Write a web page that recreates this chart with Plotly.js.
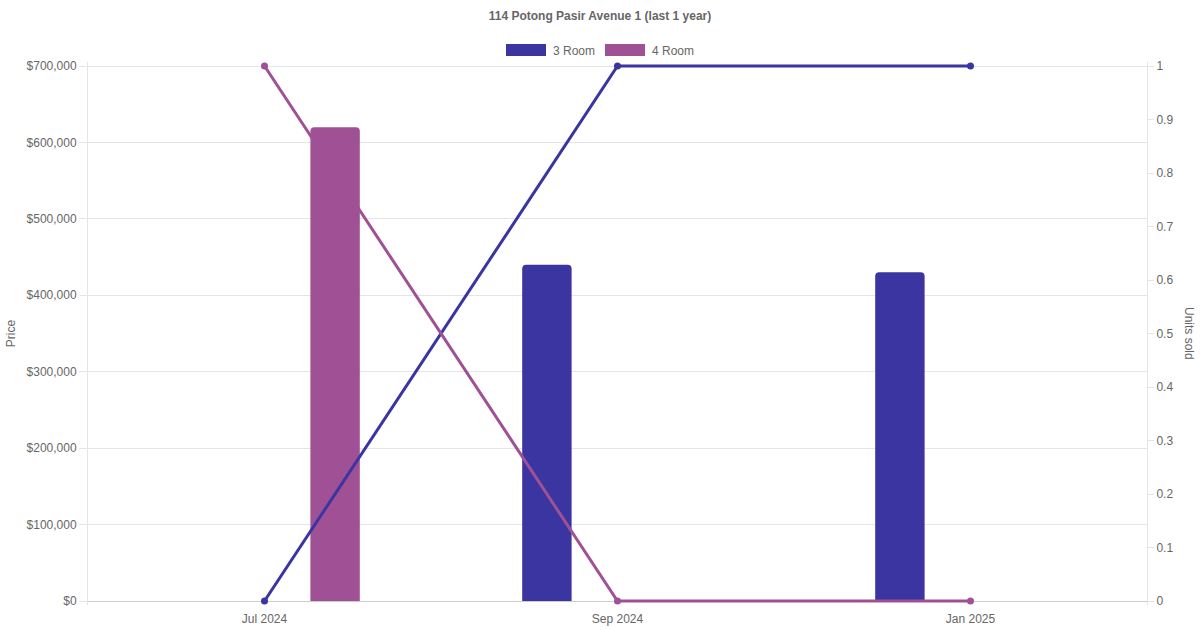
<!DOCTYPE html>
<html>
<head>
<meta charset="utf-8">
<script src="https://cdn.plot.ly/plotly-3.0.1.min.js"></script>
<style>
  html, body { margin: 0; padding: 0; background: #ffffff; }
  #chart { width: 1200px; height: 630px; }
</style>
</head>
<body>
<div id="chart"></div>
<script>
// ---- data ----
const months = ['Jul 2024', 'Sep 2024', 'Jan 2025'];
const price3Room = [null, 440000, 430000];
const price4Room = [620000, null, null];
const units3Room = [0, 1, 1];
const units4Room = [1, 0, 0];
const seriesNames = ['3 Room', '4 Room'];
const priceTicks = [0, 100000, 200000, 300000, 400000, 500000, 600000, 700000];

// ---- styles ----
const c3 = '#3a35a0';
const c4 = '#a05195';
const txt = '#666666';
const grid = '#e5e5e5';
const font = 'Liberation Sans, Arial, Helvetica, sans-serif';

// small padding so lines at 0 and 1 are not clipped (4px of 535px)
const padU = 4 / 535;

const traces = [
  {
    type: 'bar', name: seriesNames[0],
    x: months, y: price3Room, xaxis: 'x', yaxis: 'y',
    width: 0.14, offset: -0.27,
    marker: { color: c3, line: { width: 0 } }, showlegend: false
  },
  {
    type: 'bar', name: seriesNames[1],
    x: months, y: price4Room, xaxis: 'x', yaxis: 'y',
    width: 0.14, offset: 0.13,
    marker: { color: c4, line: { width: 0 } }, showlegend: false
  },
  {
    type: 'scatter', mode: 'lines+markers', name: seriesNames[0],
    x: months, y: units3Room, xaxis: 'x', yaxis: 'y2',
    line: { color: c3, width: 3 }, marker: { color: c3, size: 7 },
    cliponaxis: false, showlegend: false
  },
  {
    type: 'scatter', mode: 'lines+markers', name: seriesNames[1],
    x: months, y: units4Room, xaxis: 'x', yaxis: 'y2',
    line: { color: c4, width: 3 }, marker: { color: c4, size: 7 },
    cliponaxis: false, showlegend: false
  }
];

// plot area spans 62..605 px vertically (543 px), x 88..1147
const plotTop = 62, plotH = 543, plotL = 88, plotW = 1059;
const px2x = p => (p - plotL) / plotW;
const px2y = p => (plotTop + plotH - p) / plotH;

// custom wide-box legend
const legendItems = [
  { name: seriesNames[0], color: c3, x0: 506, x1: 546, tx: 551 },
  { name: seriesNames[1], color: c4, x0: 605, x1: 645, tx: 650 }
];
const shapes = legendItems.map(it => ({
  type: 'rect', xref: 'paper', yref: 'paper',
  x0: px2x(it.x0), x1: px2x(it.x1), y0: px2y(56), y1: px2y(44),
  fillcolor: it.color, line: { width: 0 }
}));
const annotations = legendItems.map(it => ({
  xref: 'paper', yref: 'paper', x: px2x(it.tx), y: px2y(50.5),
  xanchor: 'left', yanchor: 'middle', showarrow: false,
  text: it.name, font: { family: font, size: 12, color: txt }
}));
annotations.push({
  xref: 'paper', yref: 'paper', x: px2x(1189), y: px2y(333),
  xanchor: 'center', yanchor: 'middle', showarrow: false,
  text: 'Units sold', textangle: 90,
  font: { family: font, size: 12, color: txt }
});

const layout = {
  width: 1200, height: 630,
  paper_bgcolor: '#ffffff', plot_bgcolor: '#ffffff',
  margin: { l: 88, r: 53, t: 62, b: 25, pad: 0 },
  font: { family: font, size: 12, color: txt },
  showlegend: false,
  barcornerradius: 4,
  title: {
    text: '<b>114 Potong Pasir Avenue 1 (last 1 year)</b>',
    x: 0.5, xref: 'container', xanchor: 'center',
    y: 1 - 16 / 630, yref: 'container', yanchor: 'middle',
    font: { family: font, size: 12, color: txt }
  },
  xaxis: {
    type: 'category', categoryorder: 'array', categoryarray: months,
    range: [-0.5, 2.5], showgrid: false, zeroline: false,
    showline: false,
    ticks: '', ticklabelstandoff: 5,
    tickfont: { family: font, size: 12, color: txt }, fixedrange: true
  },
  yaxis: {
    side: 'left', range: [-700000 * padU, 700000 * (1 + padU)],
    tickmode: 'array', tickvals: priceTicks,
    ticktext: priceTicks.map(v => '$' + v.toLocaleString('en-US')),
    showgrid: true, gridcolor: grid, gridwidth: 1,
    zeroline: true, zerolinecolor: '#cccccc', zerolinewidth: 1,
    showline: true, linecolor: grid, linewidth: 1,
    ticks: 'outside', ticklen: 8, tickcolor: grid,
    tickfont: { family: font, size: 12, color: txt },
    title: { text: 'Price', standoff: 8, font: { family: font, size: 12, color: txt } },
    automargin: false
  },
  yaxis2: {
    overlaying: 'y', side: 'right', range: [-padU, 1 + padU],
    tickmode: 'linear', dtick: 0.1, tick0: 0,
    showgrid: false, zeroline: false,
    showline: true, linecolor: grid, linewidth: 1,
    ticks: 'outside', ticklen: 6, tickcolor: grid,
    tickfont: { family: font, size: 12, color: txt },
    automargin: false
  },
  shapes: shapes,
  annotations: annotations
};

Plotly.newPlot('chart', traces, layout, { staticPlot: true, displayModeBar: false });
</script>
</body>
</html>
